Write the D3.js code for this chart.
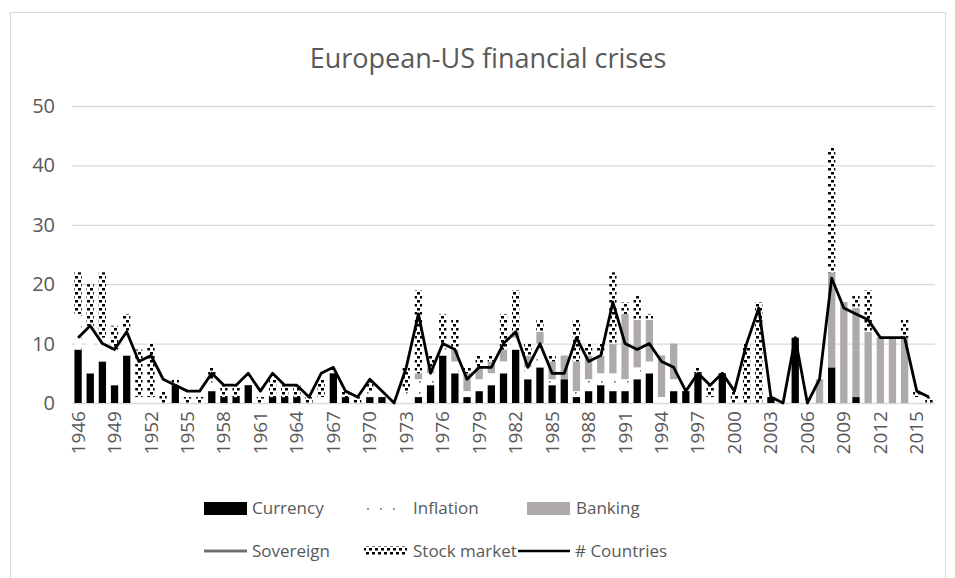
<!DOCTYPE html>
<html><head><meta charset="utf-8">
<script src="https://cdn.jsdelivr.net/npm/d3@7"></script>
<style>
body{margin:0;background:#fff;}
text{font-family:"Open Sans",sans-serif;fill:#595959;}
</style></head>
<body><svg id="c" width="955" height="578"></svg>
<script>
const years = d3.range(1946, 2017).map(String);
const currency = [9,5,7,3,8,0,0,0,3,0,0,2,1,1,3,0,1,1,1,0,0,5,1,0,1,1,0,0,1,3,8,5,1,2,3,5,9,4,6,3,4,1,2,3,2,2,4,5,0,2,2,5,0,5,0,0,0,1,0,11,0,0,6,0,1,0,0,0,0,0,0];
const inflation = [6,8,4,6,4,1,1,0,0,0,0,2,0,0,0,0,0,0,0,0,1,0,0,0,1,0,0,2,3,2,2,2,1,2,2,2,2,2,4,1,0,1,2,2,3,2,2,2,1,2,0,0,1,0,0,0,0,0,0,0,0,0,0,0,0,0,0,0,0,1,0];
const banking = [0,0,0,0,0,0,0,0,0,0,0,0,0,0,0,0,0,0,0,0,0,0,0,0,0,0,0,0,1,1,0,2,3,2,2,2,1,2,2,3,4,5,4,3,5,11,8,7,7,6,0,0,0,0,0,0,0,0,0,0,0,4,16,17,15,12,11,11,11,0,0];
const sovereign = [0,0,0,0,0,0,0,0,0,0,0,0,0,0,0,0,0,0,0,0,0,0,0,0,0,0,0,0,0,0,0,0,0,0,0,0,0,0,0,0,0,0,0,0,0,0,0,0,0,0,0,0,0,0,0,0,0,0,0,0,0,0,0,0,0,0,0,0,0,0,0];
const stock = [7,7,11,4,3,8,9,2,1,1,1,2,2,2,0,1,3,2,2,1,3,0,1,1,2,0,0,4,14,2,5,5,1,2,1,6,7,2,2,1,0,7,2,2,12,2,4,1,0,0,0,1,2,0,2,10,17,0,0,0,0,0,21,0,2,7,0,0,3,1,1];
const countries = [11,13,10,9,12,7,8,4,3,2,2,5,3,3,5,2,5,3,3,1,5,6,2,1,4,2,0,6,15,5,10,9,4,6,6,10,12,6,10,5,5,11,7,8,17,10,9,10,7,6,2,5,3,5,2,10,16,1,0,11,0,4,21,16,15,14,11,11,11,2,1];
const yTicks = [0,10,20,30,40,50];
const seriesNames = ["Currency","Inflation","Banking","Sovereign","Stock market"];

const svg = d3.select("#c");
const defs = svg.append("defs");
const pInf = defs.append("pattern").attr("id","pInf").attr("patternUnits","userSpaceOnUse").attr("width",13).attr("height",11);
pInf.append("rect").attr("width",13).attr("height",11).attr("fill","#fff");
pInf.append("rect").attr("x",3).attr("y",7).attr("width",1.6).attr("height",1.6).attr("fill","#666");
const pStk = defs.append("pattern").attr("id","pStk").attr("patternUnits","userSpaceOnUse").attr("width",6).attr("height",8);
pStk.append("rect").attr("width",6).attr("height",8).attr("fill","#fff");
pStk.append("rect").attr("x",0).attr("y",0).attr("width",3).attr("height",2.5).attr("fill","#000");
pStk.append("rect").attr("x",3).attr("y",4).attr("width",3).attr("height",2.5).attr("fill","#000");
const pSov = defs.append("pattern").attr("id","pSov").attr("patternUnits","userSpaceOnUse").attr("width",6).attr("height",6);
pSov.append("rect").attr("width",6).attr("height",6).attr("fill","#fff");
pSov.append("rect").attr("y",2).attr("width",6).attr("height",1).attr("fill","#777");
const fills = ["#000","url(#pInf)","#aeaaaa","url(#pSov)","url(#pStk)"];

svg.append("rect").attr("x",10.5).attr("y",12.5).attr("width",935).attr("height",580).attr("fill","none").attr("stroke","#d9d9d9");

const x = d3.scaleBand().domain(years).range([72,935]).paddingInner(0.4).paddingOuter(0.2);
const y = d3.scaleLinear().domain([0,50]).range([403,106]);

svg.append("g").selectAll("line").data(yTicks).join("line")
  .attr("x1",72).attr("x2",935).attr("y1",d=>y(d)+0.5).attr("y2",d=>y(d)+0.5)
  .attr("stroke","#d9d9d9").attr("stroke-width",1.3);
svg.append("g").selectAll("text").data(yTicks).join("text")
  .attr("x",55).attr("y",d=>y(d)).attr("dy","0.35em").attr("text-anchor","end")
  .attr("font-size",20).text(d=>d);

const table = years.map((yr,i)=>({year:yr,Currency:currency[i],Inflation:inflation[i],Banking:banking[i],Sovereign:sovereign[i],"Stock market":stock[i]}));
const stacked = d3.stack().keys(seriesNames)(table);
stacked.forEach((s,k)=>{
  svg.append("g").selectAll("rect").data(s).join("rect")
    .attr("x",d=>x(d.data.year)).attr("width",x.bandwidth())
    .attr("y",d=>y(d[1])).attr("height",d=>y(d[0])-y(d[1]))
    .attr("fill",fills[k]);
});

const line = d3.line().x((d,i)=>x(years[i])+x.bandwidth()/2).y(d=>y(d));
svg.append("path").attr("d",line(countries)).attr("fill","none").attr("stroke","#000").attr("stroke-width",2.8).attr("stroke-linejoin","round");

// x axis labels
const xLab = years.filter((d,i)=>i%3===0);
svg.append("g").selectAll("text").data(xLab).join("text")
  .attr("transform",d=>`translate(${x(d)+x.bandwidth()/2+6.5},411) rotate(-90)`)
  .attr("text-anchor","end").attr("font-size",19).text(d=>d);

svg.append("text").attr("x",488).attr("y",68).attr("text-anchor","middle").attr("font-size",27).text("European-US financial crises");

// legend
const L = svg.append("g");
function ltext(xp,yp,t){L.append("text").attr("x",xp).attr("y",yp).attr("dy","0.35em").attr("font-size",17).text(t);}
L.append("rect").attr("x",204).attr("y",502).attr("width",43).attr("height",13).attr("fill","#000");
ltext(252,508,"Currency");
L.selectAll("circle.inf").data([0,1,2]).join("circle").attr("class","inf")
  .attr("cx",d=>368+d*13).attr("cy",509).attr("r",1).attr("fill","#777");
ltext(413,508,"Inflation");
L.append("rect").attr("x",527).attr("y",502).attr("width",43).attr("height",13).attr("fill","#aeaaaa");
ltext(576,508,"Banking");
L.append("line").attr("x1",204).attr("x2",247).attr("y1",551).attr("y2",551).attr("stroke","#aaa").attr("stroke-width",3.5);
L.append("line").attr("x1",204).attr("x2",247).attr("y1",551).attr("y2",551).attr("stroke","#333").attr("stroke-width",1.2);
ltext(252,551,"Sovereign");
L.append("rect").attr("x",364).attr("y",546).attr("width",43).attr("height",10).attr("fill","url(#pStk)");
ltext(413,551,"Stock market");
L.append("line").attr("x1",518).attr("x2",570).attr("y1",551).attr("y2",551).attr("stroke","#000").attr("stroke-width",2.6);
ltext(575,551,"# Countries");
</script></body></html>
